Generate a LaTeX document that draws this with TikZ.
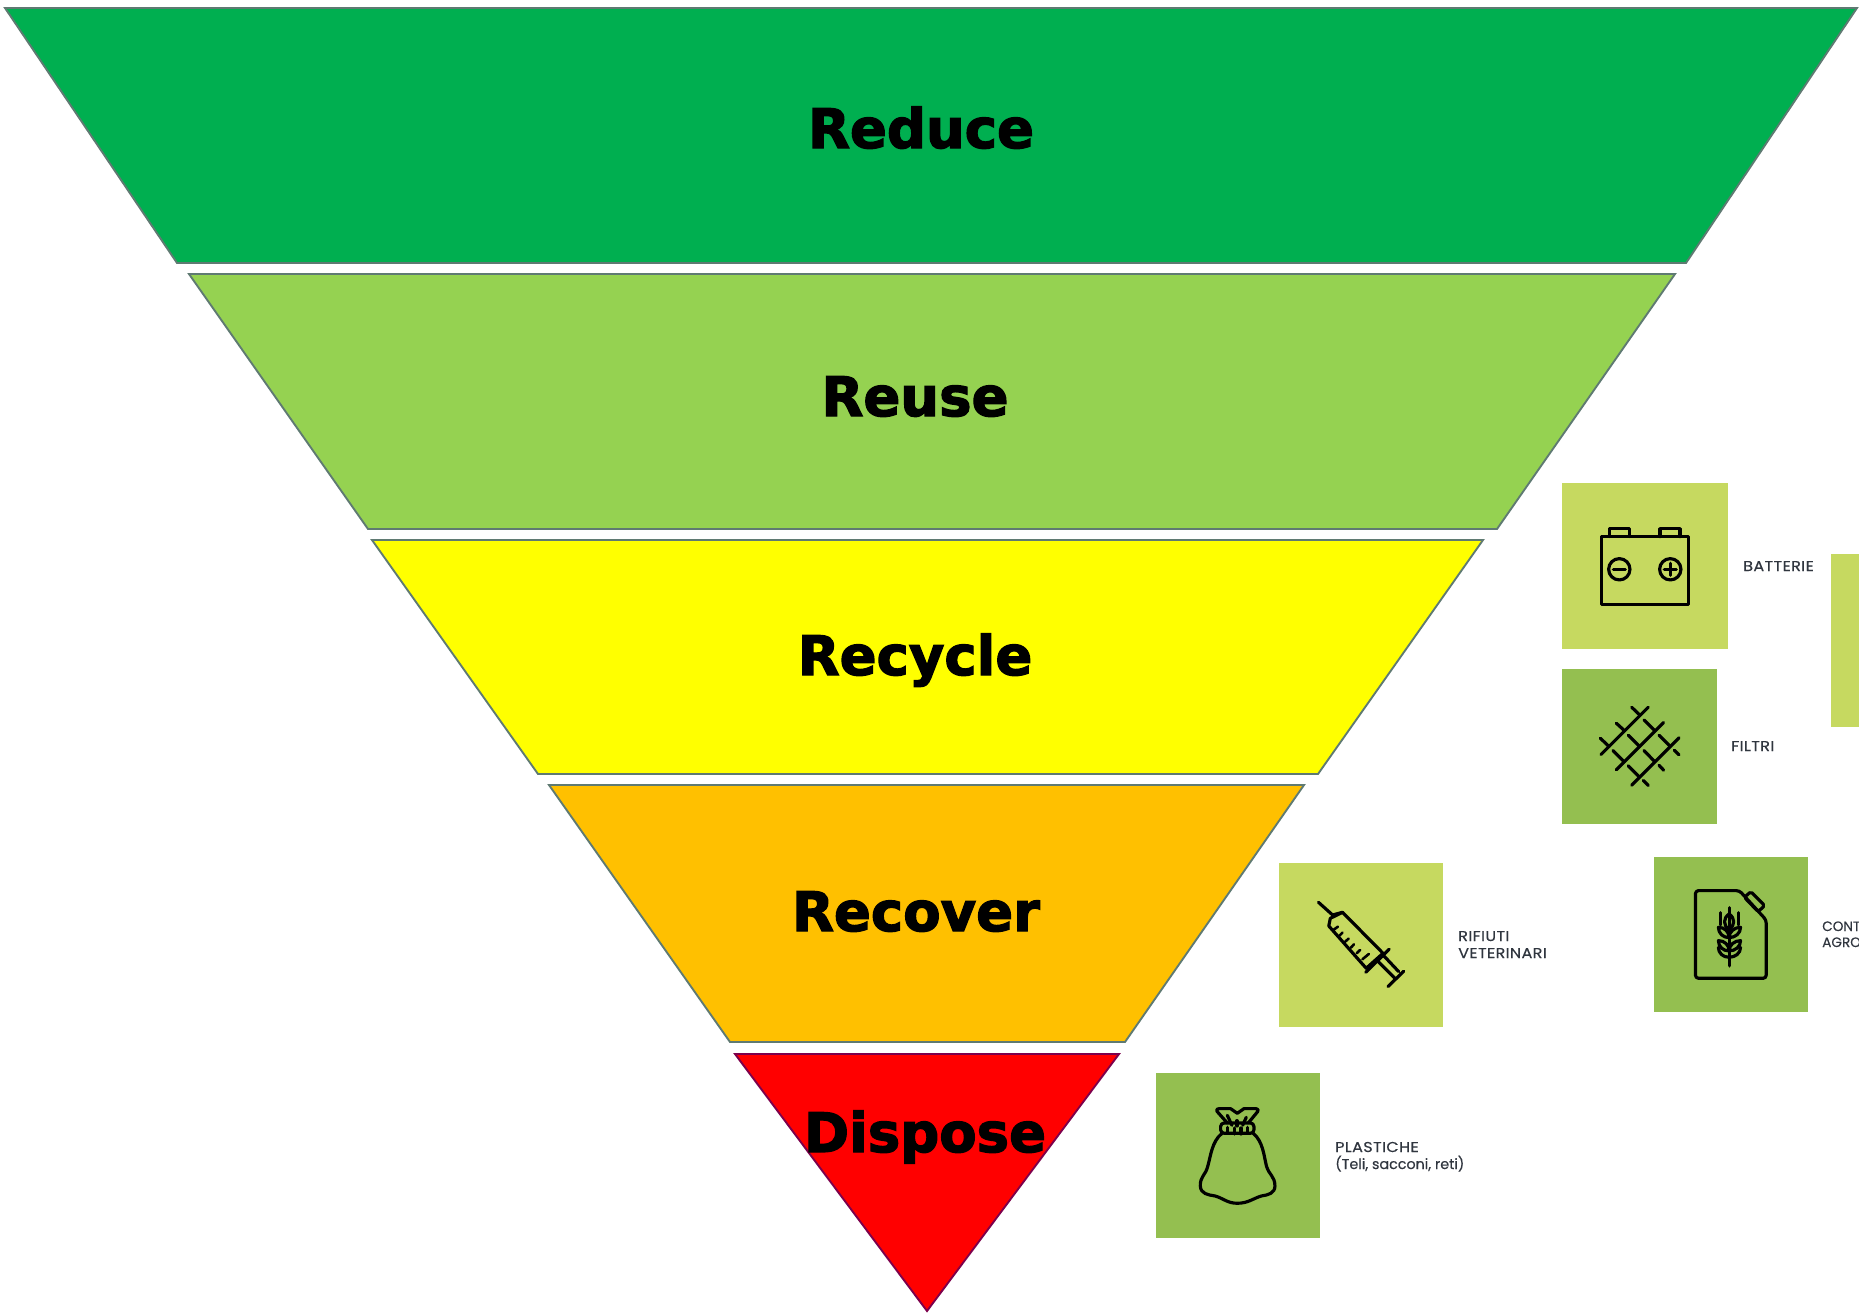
\documentclass[tikz,border=0pt]{standalone}
\usepackage{fontspec}
\setmainfont[FakeBold=0.25]{Poppins}
\newfontfamily\capsfont[FakeBold=0.25,FakeStretch=1.12,LetterSpace=2.5]{Poppins}
\newfontfamily\headfont[FakeBold=2.4]{DejaVu Sans Bold}
\definecolor{cReduce}{HTML}{00AF50}
\definecolor{cReuse}{HTML}{95D251}
\definecolor{cRecycle}{HTML}{FFFF00}
\definecolor{cRecover}{HTML}{FFC000}
\definecolor{cDispose}{HTML}{FF0000}
\definecolor{sqLight}{HTML}{C6D960}
\definecolor{sqDark}{HTML}{94BF50}
\definecolor{edgeC}{HTML}{5F7A72}
\definecolor{labelC}{HTML}{30363F}
\tikzset{
  x=0.03cm,y=-0.03cm,
  level/.style={draw=edgeC,line width=1.6pt,line join=miter},
  head/.style={font=\headfont\fontsize{46.5}{47}\selectfont,text=black,anchor=base,inner sep=0pt},
  lab/.style={font=\fontsize{12.2}{14.5}\selectfont,text=labelC,anchor=base west,inner sep=0pt},
  capslab/.style={lab,font=\capsfont\fontsize{12.2}{14.5}\selectfont},
  tightlab/.style={lab,font=\fontsize{11.6}{14.5}\selectfont},
  icon/.style={draw=black,line width=2.7pt,line cap=round,line join=round,fill=none},
  thin icon/.style={icon,line width=2.2pt}
}
\begin{document}
\begin{tikzpicture}
\useasboundingbox (0,0) rectangle (1859,1315);
\fill[white] (0,0) rectangle (1859,1315);
% levels
\filldraw[level,fill=cReduce] (5,8) -- (1857,8) -- (1686,263) -- (177,263) -- cycle;
\filldraw[level,fill=cReuse] (189,274) -- (1675,274) -- (1497,529) -- (368,529) -- cycle;
\filldraw[level,fill=cRecycle] (372,540) -- (1483,540) -- (1318,774) -- (538,774) -- cycle;
\filldraw[level,fill=cRecover] (549,785) -- (1304,785) -- (1125,1042) -- (730,1042) -- cycle;
\filldraw[level,draw=black!30!cDispose!70!blue,fill=cDispose] (735,1054) -- (1119,1054) -- (927,1311) -- cycle;
\node[head] (reduce) at (921,148) {Reduce};
\node[head] (reuse) at (915,416) {Reuse};
\node[head] (recycle) at (915,675) {Recycle};
\node[head] (recover) at (916,931) {Recover};
\node[head] (dispose) at (925,1152) {Dispose};
% squares
\fill[sqLight] (1562,483) rectangle (1728,649);
\fill[sqDark] (1562,669) rectangle (1717,824);
\fill[sqLight] (1831,554) rectangle (1859,727);
\fill[sqLight] (1279,863) rectangle (1443,1027);
\fill[sqDark] (1654,857) rectangle (1808,1012);
\fill[sqDark] (1156,1073) rectangle (1320,1238);
% labels
\node[capslab] (batterie) at (1743,571) {BATTERIE};
\node[capslab] (filtri) at (1731,751) {FILTRI};
\node[capslab] (rifiuti) at (1458,941) {RIFIUTI};
\node[capslab] (veterinari) at (1458,958) {VETERINARI};
\node[tightlab] (cont) at (1822,931) {CONT};
\node[tightlab] (agro) at (1822,947) {AGRO};
\node[capslab] (plastiche) at (1335,1152) {PLASTICHE};
\node[lab] (teli) at (1335,1169) {(Teli, sacconi, reti)};
% battery icon
\begin{scope}[shift={(1540,460)},x=0.01cm,y=-0.01cm]
\draw[icon] (184,230) rectangle (445,433);
\draw[icon] (208,230) -- (208,206) -- (268,206) -- (268,230);
\draw[icon] (360,230) -- (360,206) -- (420,206) -- (420,230);
\draw[icon] (238,328) circle (32);
\draw[icon] (391,328) circle (32);
\draw[icon] (220,328) -- (256,328);
\draw[icon] (373,328) -- (409,328);
\draw[icon] (391,310) -- (391,346);
\end{scope}
% net icon
\begin{scope}[shift={(1540,460)},x=0.01cm,y=-0.01cm]
\draw[icon] (183,884) -- (325,742);
\draw[icon] (229,930) -- (371,788);
\draw[icon] (275,976) -- (417,834);
\draw[icon] (181,835) -- (207,860);
\draw[icon] (229,790) -- (253,812);
\draw[icon] (275,742) -- (298,764);
\draw[icon] (219,872) -- (252,905);
\draw[icon] (265,826) -- (298,859);
\draw[icon] (312,780) -- (344,812);
\draw[icon] (265,918) -- (298,951);
\draw[icon] (312,872) -- (344,905);
\draw[icon] (357,826) -- (390,859);
\draw[icon] (310,962) -- (325,977);
\draw[icon] (357,916) -- (371,931);
\draw[icon] (403,871) -- (417,885);
\end{scope}
% syringe icon
\begin{scope}[shift={(1260,840)},x=0.011459cm,y=-0.01cm]
\draw[icon] (153,187) -- (190,225);
\draw[icon] (216,217) -- (322,340) -- (278,385) -- (180,258) -- (184,235) -- cycle;
\draw[icon] (190,225) -- (216,217);
\draw[icon] (338,328) -- (277,397);
\draw[icon] (305,360) -- (355,417);
\draw[icon] (322,345) -- (363,395);
\draw[icon] (376,394) -- (335,440);
\draw[thin icon] (192,270) -- (204,260);
\draw[thin icon] (207,288) -- (216,278);
\draw[thin icon] (222,306) -- (232,296);
\draw[thin icon] (238,323) -- (246,313);
\draw[thin icon] (253,340) -- (262,330);
\draw[thin icon] (268,358) -- (285,342);
\end{scope}
% canister icon
\begin{scope}[shift={(1260,840)},x=0.011459cm,y=-0.01cm]
\draw[icon,rounded corners=2.5pt] (1140,152) -- (1255,152) -- (1325,240) -- (1325,415) -- (1140,415) -- cycle;
\draw[icon,rounded corners=1.5pt] (1268,172) -- (1285,155) -- (1321,197) -- (1304,215) -- cycle;
\draw[icon] (1228,203) -- (1228,378);
\draw[icon] (1205,218) -- (1205,255);
\draw[icon] (1253,218) -- (1253,255);
\draw[icon] (1228,270) .. controls (1212,255) and (1212,235) .. (1228,222) .. controls (1244,235) and (1244,255) .. (1228,270);
\foreach \yy in {270,310}{
  \draw[icon] (1228,\yy+23) .. controls (1212,\yy+23) and (1200,\yy+10) .. (1200,\yy-8) .. controls (1216,\yy-8) and (1228,\yy+5) .. (1228,\yy+23);
  \draw[icon] (1228,\yy+23) .. controls (1244,\yy+23) and (1258,\yy+10) .. (1258,\yy-8) .. controls (1242,\yy-8) and (1228,\yy+5) .. (1228,\yy+23);
}
\draw[icon] (1228,352) .. controls (1212,352) and (1200,340) .. (1200,322);
\draw[icon] (1228,352) .. controls (1244,352) and (1258,340) .. (1258,322);
\end{scope}
% bag icon
\begin{scope}[shift={(1140,1050)},x=0.01cm,y=-0.01cm]
\draw[icon] (262,219) -- (231,184) .. controls (228,178) and (232,176) .. (238,176) -- (272,176) -- (292,190) -- (312,176) -- (348,176) .. controls (354,176) and (357,180) .. (353,185) -- (325,219);
\draw[icon,rounded corners=3pt] (242,219) -- (342,219) -- (342,250) -- (242,250) -- cycle;
\draw[icon] (262,196) -- (276,226);
\draw[icon] (291,212) -- (291,228);
\draw[icon] (319,202) -- (308,226);
\draw[icon] (262,232) -- (262,250);
\draw[icon] (283,234) -- (283,252);
\draw[icon] (303,234) -- (303,252);
\draw[icon] (323,232) -- (323,250);
\draw[icon] (246,250) .. controls (215,275) and (212,320) .. (203,350)
  .. controls (197,375) and (180,380) .. (181,408)
  .. controls (182,432) and (205,435) .. (225,438)
  .. controls (250,445) and (262,460) .. (292,460)
  .. controls (325,460) and (340,445) .. (365,438)
  .. controls (385,435) and (405,430) .. (405,408)
  .. controls (405,380) and (388,375) .. (380,350)
  .. controls (372,320) and (370,275) .. (340,250);
\end{scope}
\end{tikzpicture}
\end{document}
